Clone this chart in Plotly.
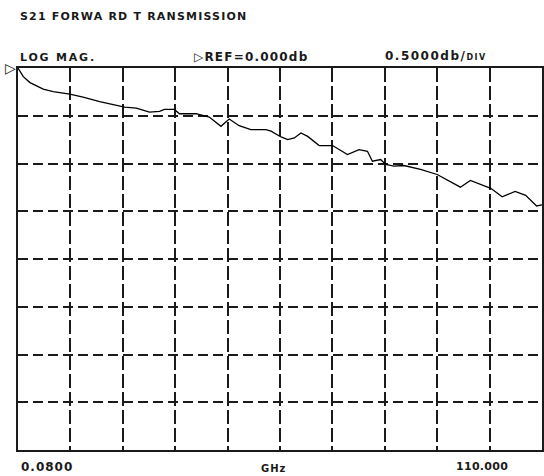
import plotly.graph_objects as go

# Frequency (GHz) and S21 magnitude (dB)
freq_ghz = [0.08, 1.19, 2.59, 5.37, 7.46, 10.95, 13.73, 17.22, 22.44, 24.89, 27.67,
            29.76, 30.80, 32.89, 33.94, 37.43, 40.21, 42.65, 44.39, 46.48, 48.92,
            52.06, 53.17, 55.26, 56.66, 58.04, 59.44, 60.84, 63.26, 66.06, 69.20,
            71.62, 73.38, 74.42, 76.16, 77.20, 78.94, 81.03, 84.52, 88.01, 92.88,
            94.97, 99.25, 101.65, 104.37, 106.57, 108.86, 110.0]
s21_db = [0.0, -0.091, -0.153, -0.222, -0.247, -0.274, -0.305, -0.351, -0.409, -0.420, -0.461,
          -0.455, -0.434, -0.434, -0.479, -0.479, -0.514, -0.611, -0.534, -0.604, -0.646,
          -0.646, -0.661, -0.722, -0.750, -0.732, -0.680, -0.716, -0.812, -0.812, -0.906,
          -0.854, -0.872, -0.976, -0.958, -1.010, -1.028, -1.021, -1.062, -1.115, -1.248,
          -1.177, -1.260, -1.349, -1.292, -1.333, -1.445, -1.432]

f_start, f_stop = 0.08, 110.0
ref_db, db_per_div, n_ydiv, n_xdiv = 0.0, 0.5, 8, 10

x_grid = [f_start + i * (f_stop - f_start) / n_xdiv for i in range(n_xdiv + 1)]
y_grid = [ref_db - i * db_per_div for i in range(n_ydiv + 1)]

FONT = "DejaVu Sans"
INK = "#1a1a1a"

fig = go.Figure()
fig.add_trace(go.Scatter(x=freq_ghz, y=s21_db, mode="lines",
                         line=dict(color="black", width=1.3), hoverinfo="skip"))

fig.update_layout(
    width=544, height=476,
    margin=dict(l=18, r=0, t=68, b=26),
    paper_bgcolor="white", plot_bgcolor="white",
    showlegend=False,
    xaxis=dict(range=[f_start, f_stop], tickvals=x_grid, showticklabels=False,
               showgrid=True, gridcolor=INK, gridwidth=2, griddash="14px,4px",
               zeroline=False, showline=True, linecolor=INK, linewidth=2, mirror=True,
               ticks=""),
    yaxis=dict(range=[ref_db - n_ydiv * db_per_div, ref_db], tickvals=y_grid,
               showticklabels=False,
               showgrid=True, gridcolor=INK, gridwidth=2, griddash="10px,5px",
               zeroline=False, showline=True, linecolor=INK, linewidth=2, mirror=True,
               ticks=""),
)

def note(text, x, y, size=11, xanchor="left", yanchor="bottom", xref="paper", yref="paper",
         spacing=None):
    if spacing is not None:
        text = f"<span style='letter-spacing:{spacing}px'>{text}</span>"
    fig.add_annotation(text=text, x=x, y=y, xref=xref, yref=yref, showarrow=False,
                       xanchor=xanchor, yanchor=yanchor,
                       font=dict(family=FONT, size=size, color=INK))

note("<b>S21 FORWA RD T RANSMISSION</b>", 0.0, 1.112, size=11, spacing=1.2)
note("<b>LOG MAG.</b>", 0.0, 1.004, size=11, spacing=1.8)
note("<b>▷REF=0.000db</b>", 0.333, 1.004, size=12, spacing=1.2)
note("<b>0.5000db/<span style='font-size:8px'>DIV</span></b>", 0.697, 1.007, size=12, spacing=1.5)
note("<b>▷</b>", 0.0, ref_db, size=14, xanchor="right", yanchor="middle", yref="y")
note("<b>0.0800</b>", 0.002, -0.02, size=12, yanchor="top", spacing=1.0)
note("<b>GHz</b>", 0.487, -0.028, size=10, xanchor="center", yanchor="top", spacing=1.0)
note("<b>110.000</b>", 0.939, -0.02, size=11, xanchor="right", yanchor="top", spacing=0.3)

fig.write_html("out.html", config={"displayModeBar": False},
               post_script="document.body.style.margin='0';")
